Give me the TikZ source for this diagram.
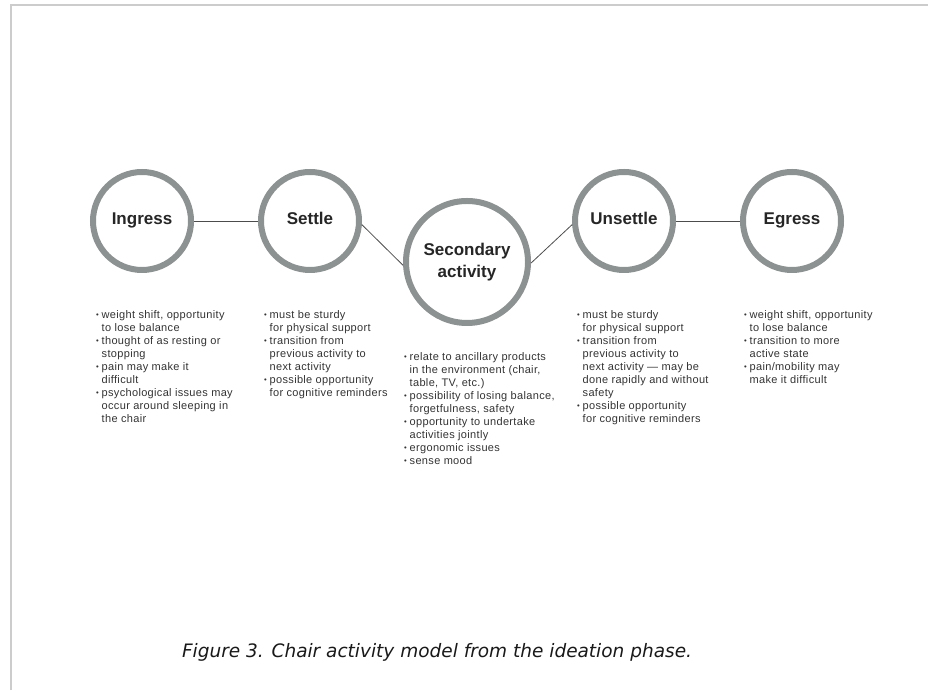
\documentclass[tikz,border=0pt]{standalone}
\usepackage{fontspec}
\setmainfont{Liberation Sans}
\newfontfamily\capfont{DejaVu Sans}
\usepackage{tikz}
\definecolor{ringgray}{RGB}{140,145,145}
\definecolor{txtgray}{RGB}{51,51,51}
\definecolor{framegray}{RGB}{204,204,204}
\tikzstyle{stage} = [circle, minimum size=98pt, inner sep=0pt,%
    line width=6pt, draw=ringgray, fill=white, align=center,%
    text height=12pt, text depth=4pt,%
    font=\fontsize{17}{22}\selectfont\bfseries, text=black!85]
\tikzstyle{bigstage} = [stage, minimum size=122pt, text height=, text depth=]
\tikzstyle{link} = [draw=black!70, line width=0.8pt]
\tikzstyle{notes} = [anchor=north west, inner sep=0pt, align=left,%
    font=\fontsize{11}{13}\selectfont\addfontfeatures{LetterSpace=3},%
    text=txtgray]
\newcommand{\bul}{\makebox[5.5pt][l]{\raisebox{0.15ex}{\scalebox{0.7}{\textbullet}}}}
\newcommand{\ind}{\hspace*{5.5pt}}
\begin{document}
\begin{tikzpicture}[x=1pt, y=1pt, node distance=168pt]
    \useasboundingbox (0,0) rectangle (928,690);
    % frame
    \draw [framegray, line width=2pt] (10.5,0) -- (10.5,684.5) -- (928,684.5);
    % stages
    \node (ingress) [stage] at (142,469) {Ingress};
    \node (settle) [stage, right of=ingress] {Settle};
    \node (second) [bigstage] at (467,428) {Secondary\\activity};
    \node (unsettle) [stage] at (624,469) {Unsettle};
    \node (egress) [stage, right of=unsettle] {Egress};
    \draw [link] (ingress) -- (settle);
    \draw [link] (settle.-4) -- (second.183);
    \draw [link] (second.-1) -- (unsettle.184);
    \draw [link] (unsettle) -- (egress);
    % notes
    \node (ingnotes) [notes] at (96,380) {\bul weight shift, opportunity\\
        \ind to lose balance\\
        \bul thought of as resting or\\
        \ind stopping\\
        \bul pain may make it\\
        \ind difficult\\
        \bul psychological issues may\\
        \ind occur around sleeping in\\
        \ind the chair};
    \node (setnotes) [notes] at (264,380) {\bul must be sturdy\\
        \ind for physical support\\
        \bul transition from\\
        \ind previous activity to\\
        \ind next activity\\
        \bul possible opportunity\\
        \ind for cognitive reminders};
    \node (secnotes) [notes] at (404,338) {\bul relate to ancillary products\\
        \ind in the environment (chair,\\
        \ind table, TV, etc.)\\
        \bul possibility of losing balance,\\
        \ind forgetfulness, safety\\
        \bul opportunity to undertake\\
        \ind activities jointly\\
        \bul ergonomic issues\\
        \bul sense mood};
    \node (unsnotes) [notes] at (577,380) {\bul must be sturdy\\
        \ind for physical support\\
        \bul transition from\\
        \ind previous activity to\\
        \ind next activity --- may be\\
        \ind done rapidly and without\\
        \ind safety\\
        \bul possible opportunity\\
        \ind for cognitive reminders};
    \node (egrnotes) [notes] at (744,380) {\bul weight shift, opportunity\\
        \ind to lose balance\\
        \bul transition to more\\
        \ind active state\\
        \bul pain/mobility may\\
        \ind make it difficult};
    % caption
    \node (caption) [anchor=base, font=\capfont\itshape\fontsize{18.5}{22}\selectfont,
        text=black!90] at (437,32) {Figure 3. Chair activity model from the ideation phase.};
\end{tikzpicture}
\end{document}
